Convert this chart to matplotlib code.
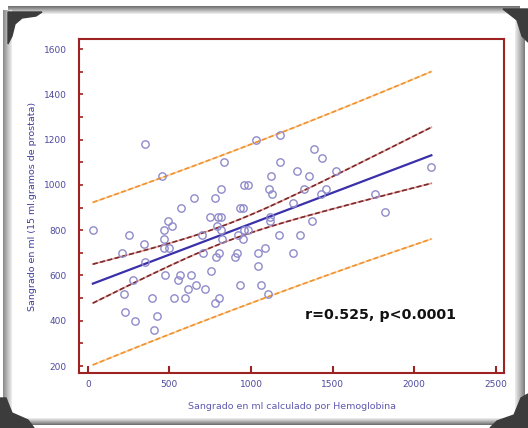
import matplotlib
matplotlib.use("Agg")
import matplotlib.pyplot as plt
from matplotlib.patches import Polygon
import numpy as np

# blood loss estimated from haemoglobin (ml) vs measured blood loss (ml)
x_hb = np.array([31, 351, 454, 209, 250, 347, 351, 219, 231, 289, 277, 394, 403, 423,
                 465, 465, 465, 489, 514, 500, 471, 574, 553, 568, 529, 593, 632, 617,
                 661, 653, 702, 704, 721, 746, 754, 781, 814, 832, 795, 819, 793, 816,
                 822, 804, 787, 777, 801, 905, 913, 921, 933, 954, 956, 981, 933, 950,
                 960, 983, 1033, 1041, 1043, 1062, 1084, 1105, 1124, 1113, 1128, 1117,
                 1117, 1171, 1175, 1179, 1258, 1258, 1280, 1303, 1326, 1355, 1384, 1373,
                 1437, 1427, 1458, 1518, 1760, 1819, 2105])
y_ml = np.array([800, 1180, 1040, 700, 780, 740, 660, 520, 440, 400, 580, 500, 360, 420,
                 800, 760, 720, 840, 820, 720, 600, 900, 580, 600, 500, 500, 600, 540,
                 560, 940, 780, 700, 540, 860, 620, 940, 980, 1100, 860, 860, 820, 800,
                 760, 700, 680, 480, 500, 680, 700, 780, 900, 900, 1000, 1000, 560, 760,
                 800, 800, 1200, 700, 640, 560, 720, 520, 1040, 980, 960, 860,
                 840, 780, 1100, 1220, 920, 700, 1060, 780, 980, 1040, 1160, 840,
                 1120, 960, 980, 1060, 960, 880, 1080])

x_ticks = [0, 500, 1000, 1500, 2000, 2500]
y_ticks = [200, 400, 600, 800, 1000, 1200, 1400, 1600]
stat_text = "r=0.525, p<0.0001"
t_crit = 1.988  # t(0.975, n-2)

# regression + 95% bands
n = len(x_hb)
slope, intercept = np.polyfit(x_hb, y_ml, 1)
resid = y_ml - (intercept + slope * x_hb)
s = np.sqrt(np.sum(resid ** 2) / (n - 2))
xm = x_hb.mean()
sxx = np.sum((x_hb - xm) ** 2)
xx = np.linspace(x_hb.min(), x_hb.max(), 200)
fit = intercept + slope * xx
ci = t_crit * s * np.sqrt(1 / n + (xx - xm) ** 2 / sxx)
pi = t_crit * s * np.sqrt(1 + 1 / n + (xx - xm) ** 2 / sxx)

W, H = 528, 428
fig = plt.figure(figsize=(W / 100, H / 100), dpi=100)
fig.patch.set_facecolor("white")

# photo-frame decoration
bg_ax = fig.add_axes([0, 0, 1, 1], zorder=-5)
bg = np.ones((H, W, 3))
for i, v in enumerate(np.linspace(0.45, 0.92, 8)):
    bg[6 + i, 8:520] = v
for i, v in enumerate(np.linspace(0.55, 0.92, 9)):
    bg[10:422, 3 + i] = v
for i, v in enumerate(np.linspace(0.92, 0.5, 10)):
    bg[10:422, 515 + i] = v
for i, v in enumerate(np.linspace(0.92, 0.45, 7)):
    bg[418 + i, 8:520] = v
bg_ax.imshow(bg, extent=(0, W, H, 0), aspect="auto")
corners = [
    [(8, 12), (42, 12), (36, 16), (22, 18), (15, 24), (12, 36), (8, 44)],
    [(503, 9), (528, 9), (528, 42), (522, 36), (517, 20)],
    [(0, 398), (6, 398), (12, 413), (28, 420), (34, 428), (0, 428)],
    [(528, 394), (521, 398), (514, 415), (497, 421), (490, 428), (528, 428)],
]
for c in corners:
    bg_ax.add_patch(Polygon(c, closed=True, color="#3c3c3c"))
bg_ax.set_xlim(0, W)
bg_ax.set_ylim(H, 0)
bg_ax.axis("off")

ax = fig.add_axes([0.1502, 0.1278, 0.8043, 0.7804])
ax.set_facecolor("white")

ax.plot(xx, fit + pi, color="#fcd2a2", lw=1.2)
ax.plot(xx, fit - pi, color="#fcd2a2", lw=1.2)
ax.plot(xx, fit + pi, color="#f0922e", lw=1.2, ls=(0, (3, 1.5)))
ax.plot(xx, fit - pi, color="#f0922e", lw=1.2, ls=(0, (3, 1.5)))
ax.plot(xx, fit + ci, color="#e3a0a0", lw=1.2)
ax.plot(xx, fit - ci, color="#e3a0a0", lw=1.2)
ax.plot(xx, fit + ci, color="#7a2a2a", lw=1.2, ls=(0, (3, 1.5)))
ax.plot(xx, fit - ci, color="#7a2a2a", lw=1.2, ls=(0, (3, 1.5)))
ax.plot(xx, fit, color="#3a30aa", lw=1.6)

ax.plot(x_hb, y_ml, "o", ms=5.3, mfc="none", mec="#8f8bcb", mew=1.0)

ax.text(1796, 425, stat_text, ha="center", va="center", fontsize=10.3,
        fontweight="bold", color="#111111")

ax.set_xlim(-52, 2550)
ax.set_ylim(168, 1643)
ax.set_xticks(x_ticks)
ax.set_yticks(y_ticks)
ax.set_yticks(np.arange(300, 1600, 200), minor=True)

for sp in ax.spines.values():
    sp.set_color("#9e2222")
    sp.set_linewidth(1.5)
ax.tick_params(axis="x", direction="in", length=5, width=1.5, color="#9e2222",
               labelsize=6.5, labelcolor="#4d4a9e", pad=5)
ax.tick_params(axis="y", which="both", direction="in", length=3, width=1.2,
               color="#9e2222", labelsize=6.5, labelcolor="#4d4a9e", pad=9)

ax.set_xlabel("Sangrado en ml calculado por Hemoglobina", fontsize=6.8,
              color="#5e5ab0", labelpad=9)
ax.set_ylabel("Sangrado en ml (15 ml.gramos de prostata)", fontsize=6.8,
              color="#3f3c9c", labelpad=5)

fig.savefig("out.png", dpi=100)
